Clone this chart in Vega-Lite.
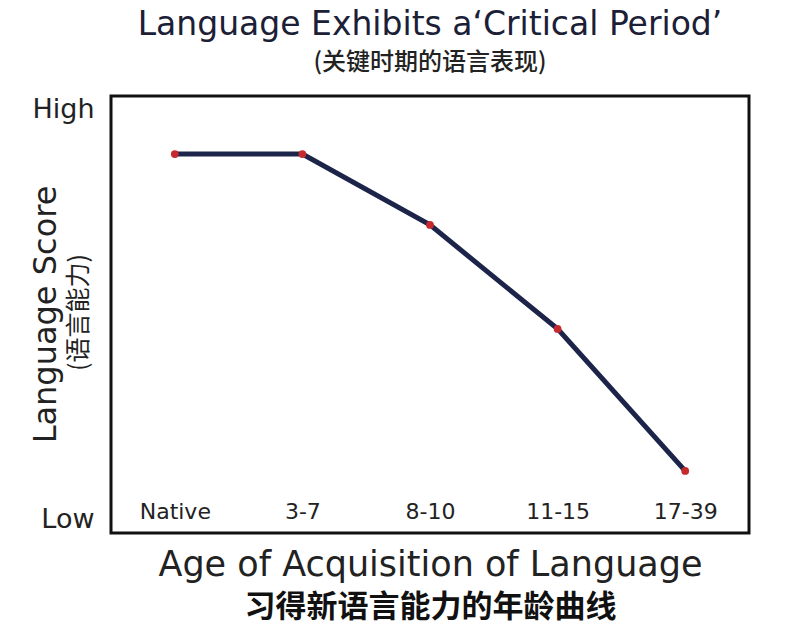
{
  "$schema": "https://vega.github.io/schema/vega-lite/v6.json",
  "width": 638,
  "height": 437,
  "autosize": "none",
  "padding": {"left": 111, "top": 96, "right": 51, "bottom": 100},
  "background": "white",
  "title": {
    "text": "Language Exhibits a‘Critical Period’",
    "subtitle": "(关键时期的语言表现)",
    "anchor": "middle",
    "frame": "group",
    "offset": 20,
    "font": "DejaVu Sans",
    "fontSize": 33,
    "fontWeight": "normal",
    "color": "#1b2036",
    "subtitleFont": "Noto Sans CJK SC",
    "subtitleFontSize": 24,
    "subtitleFontWeight": 500,
    "subtitleColor": "#222222",
    "subtitlePadding": 9
  },
  "config": {"view": {"stroke": "#111111", "strokeWidth": 3}},
  "data": {
    "values": [
      {"age": "Native", "score": 86.7},
      {"age": "3-7", "score": 86.7},
      {"age": "8-10", "score": 70.5},
      {"age": "11-15", "score": 46.7},
      {"age": "17-39", "score": 14.2}
    ]
  },
  "layer": [
    {
      "encoding": {
        "x": {
          "field": "age", "type": "ordinal", "sort": null,
          "scale": {"type": "point", "padding": 0.5},
          "axis": {
            "orient": "bottom", "offset": -32, "domain": false, "ticks": false, "grid": false,
            "labelAngle": 0, "labelPadding": 0, "labelFont": "DejaVu Sans", "labelFontSize": 22,
            "labelColor": "#222222",
            "title": "Age of Acquisition of Language", "titleFont": "DejaVu Sans", "titleFontSize": 35,
            "titleFontWeight": "normal", "titleColor": "#222222", "titlePadding": 25
          }
        },
        "y": {
          "field": "score", "type": "quantitative",
          "scale": {"domain": [0, 100]},
          "axis": {
            "orient": "left", "values": [97, 3], "labelExpr": "datum.value > 50 ? 'High' : 'Low'",
            "domain": false, "ticks": false, "grid": false, "labelPadding": 17,
            "labelFont": "DejaVu Sans", "labelFontSize": 27, "labelColor": "#222222",
            "title": "(语言能力)", "titleFont": "Noto Sans CJK SC", "titleFontSize": 25,
            "titleFontWeight": "normal", "titleColor": "#222222",
            "titleX": -33, "titleY": 216, "titleBaseline": "middle", "titleAlign": "center"
          }
        }
      },
      "layer": [
        {"mark": {"type": "line", "color": "#1c2449", "strokeWidth": 5}},
        {"mark": {"type": "point", "filled": true, "color": "#c62a2f", "size": 60, "opacity": 1}}
      ]
    },
    {
      "mark": {"type": "point", "opacity": 0},
      "encoding": {
        "x": {
          "field": "age", "type": "ordinal", "sort": null,
          "scale": {"type": "point", "padding": 0.5},
          "axis": {
            "orient": "bottom", "labels": false, "domain": false, "ticks": false, "grid": false,
            "title": "习得新语言能力的年龄曲线", "titleFont": "Noto Sans CJK SC", "titleFontSize": 31,
            "titleFontWeight": "bold", "titleColor": "#111111", "titlePadding": 59
          }
        },
        "y": {
          "field": "score", "type": "quantitative",
          "scale": {"domain": [0, 100]},
          "axis": {
            "orient": "left", "labels": false, "domain": false, "ticks": false, "grid": false,
            "title": "Language Score", "titleFont": "DejaVu Sans", "titleFontSize": 32,
            "titleFontWeight": "normal", "titleColor": "#222222",
            "titleX": -66, "titleY": 218, "titleBaseline": "middle", "titleAlign": "center"
          }
        }
      }
    }
  ],
  "resolve": {"scale": {"x": "independent", "y": "independent"}}
}
